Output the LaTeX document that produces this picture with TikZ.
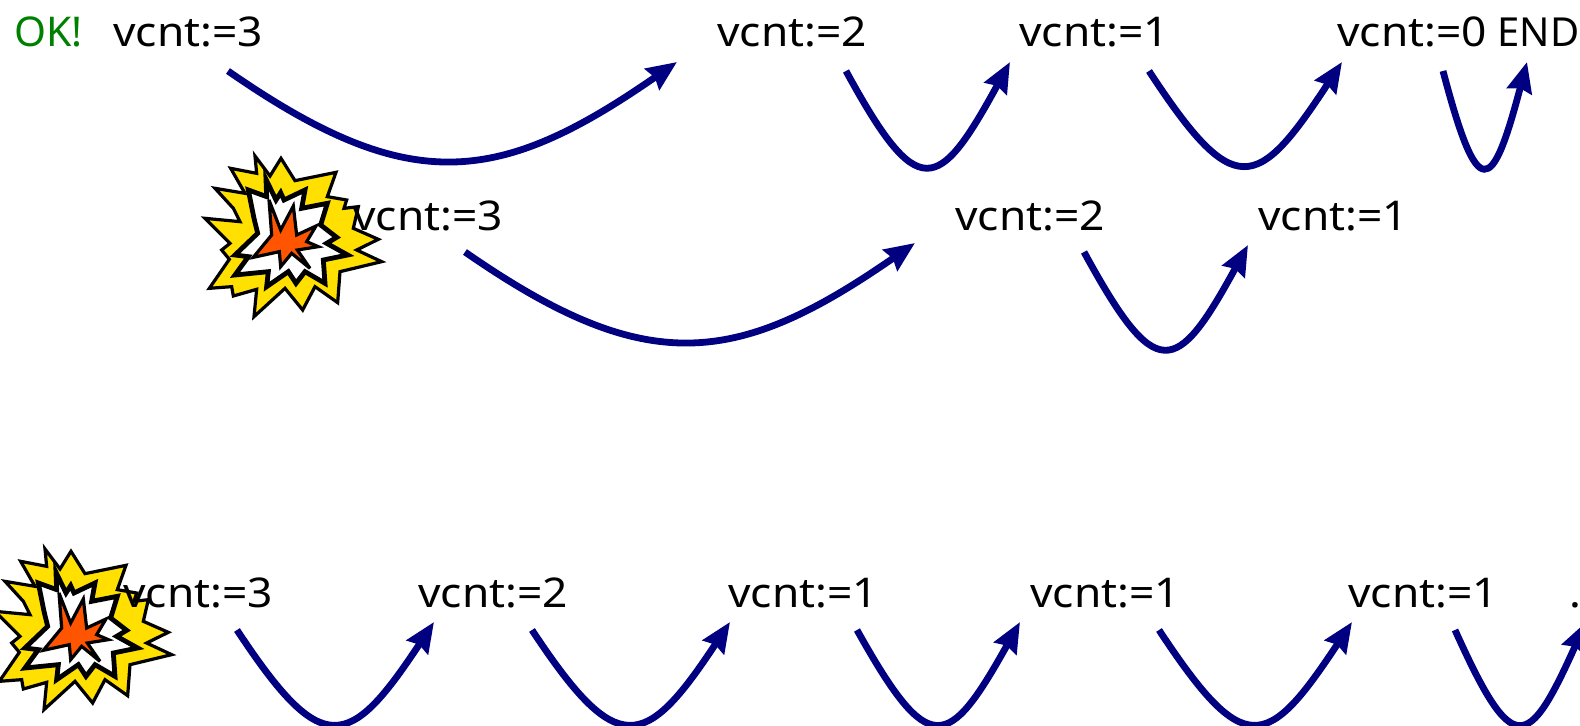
\documentclass[tikz,border=0pt]{standalone}
\usepackage{fontspec}
\setmainfont[FakeStretch=1.08]{Noto Sans}
\newfontfamily\plainfont{Noto Sans}
\usetikzlibrary{arrows.meta}
\definecolor{cntNavy}{HTML}{000080}
\definecolor{cntGreen}{HTML}{008000}
\definecolor{burstYellow}{HTML}{FFE000}
\definecolor{burstOrange}{HTML}{FF5500}
\tikzset{
  vcnt node/.style={
    anchor=south west, inner sep=0pt, text depth=0pt,
    font=\fontsize{20.5}{24}\selectfont,
  },
  loop arrow/.style={
    line width=3.4pt, color=cntNavy,
    -{Stealth[length=15pt,width=12.5pt,inset=1.5pt]},
  },
  burst line/.style={
    draw=black, line width=1.6pt, miter limit=6,
  },
  burst/.pic={
    \begin{scope}[scale=1/3]
      \draw[burst line, fill=burstYellow]
        (195,48) -- (240,108) -- (273,55) -- (315,122) -- (438,97) -- (412,170)
        -- (470,180) -- (462,205) -- (505,200) -- (490,265) -- (565,298)
        -- (500,330) -- (575,365) -- (450,395) -- (443,488) -- (375,440)
        -- (338,510) -- (285,445) -- (192,530) -- (200,448) -- (130,468)
        -- (125,440) -- (58,445) -- (118,358) -- (95,330) -- (120,310)
        -- (45,235) -- (150,245) -- (130,205) -- (75,145) -- (165,160)
        -- (122,85) -- (200,100) -- cycle;
      \draw[burst line, line width=2.4pt, fill=white]
        (228,118) -- (258,180) -- (272,158) -- (282,180) -- (345,150)
        -- (335,205) -- (412,190) -- (392,255) -- (440,292) -- (410,310)
        -- (473,345) -- (400,360) -- (405,430) -- (345,395) -- (318,430)
        -- (295,395) -- (230,440) -- (235,395) -- (135,405) -- (175,350)
        -- (135,345) -- (203,280) -- (192,235) -- (175,150)
        -- (230,170) -- cycle;
      \draw[burst line, fill=burstOrange]
        (237,180) -- (272,270) -- (310,198) -- (320,285) -- (378,258)
        -- (350,305) -- (385,320) -- (322,330) -- (360,385) -- (305,340)
        -- (272,380) -- (268,335) -- (190,352) -- (245,285) -- cycle;
    \end{scope}
  },
}
\begin{document}
\begin{tikzpicture}[x=0.5pt,y=-0.5pt]
\clip (0,0) rectangle (1580,726);

% Explosions sit under the texts
\pic at (190,140) {burst};
\pic at (-20,533) {burst};

% Row 1
\node[vcnt node, text=cntGreen] (ok) at (14,47) {\plainfont OK!};
\foreach \nm/\px/\txt in {a3/113/3, a2/717/2, a1/1019/1, a0/1337/0} {
  \node[vcnt node] (\nm) at (\px,47) {vcnt:=\txt};
}
\node[vcnt node, font=\fontsize{20}{24}\selectfont] (aend) at (1497,47) {\plainfont END};

% Row 2
\foreach \nm/\px/\txt in {b3/353/3, b2/955/2, b1/1258/1} {
  \node[vcnt node] (\nm) at (\px,231) {vcnt:=\txt};
}

% Row 3
\foreach \nm/\px/\txt in {c3/123/3, c2/418/2, c1/728/1, d1/1030/1, e1/1348/1} {
  \node[vcnt node] (\nm) at (\px,608) {vcnt:=\txt};
}
\node[vcnt node] (dots) at (1569,608) {.};

% Arrows: from / x offset / to / x offset / start dy / end dy / control x / control y
\foreach \a/\da/\b/\db/\sy/\ey/\p/\q in {
  a3/115/a2/-40/24/15/180/125,
  a2/129/a1/-9/24/15/72/132,
  a1/130/a0/5/24/15/85/130,
  a0/106/aend/30/24/15/35/133,
  b3/112/b2/-40/21/12/180/125,
  b2/129/b1/-10/21/14/72/132,
  c3/114/c2/16/22/14/85/129,
  c2/114/c1/2/22/14/85/129,
  c1/129/d1/-10/22/14/72/129,
  d1/129/e1/4/22/14/85/129,
  e1/107/dots/17/22/14/58/129} {
  \draw[loop arrow] ([shift={(\da,\sy)}]\a.south west)
    .. controls +(\p,\q) and +(-\p,\q) .. ([shift={(\db,\ey)}]\b.south west);
}
\end{tikzpicture}
\end{document}
